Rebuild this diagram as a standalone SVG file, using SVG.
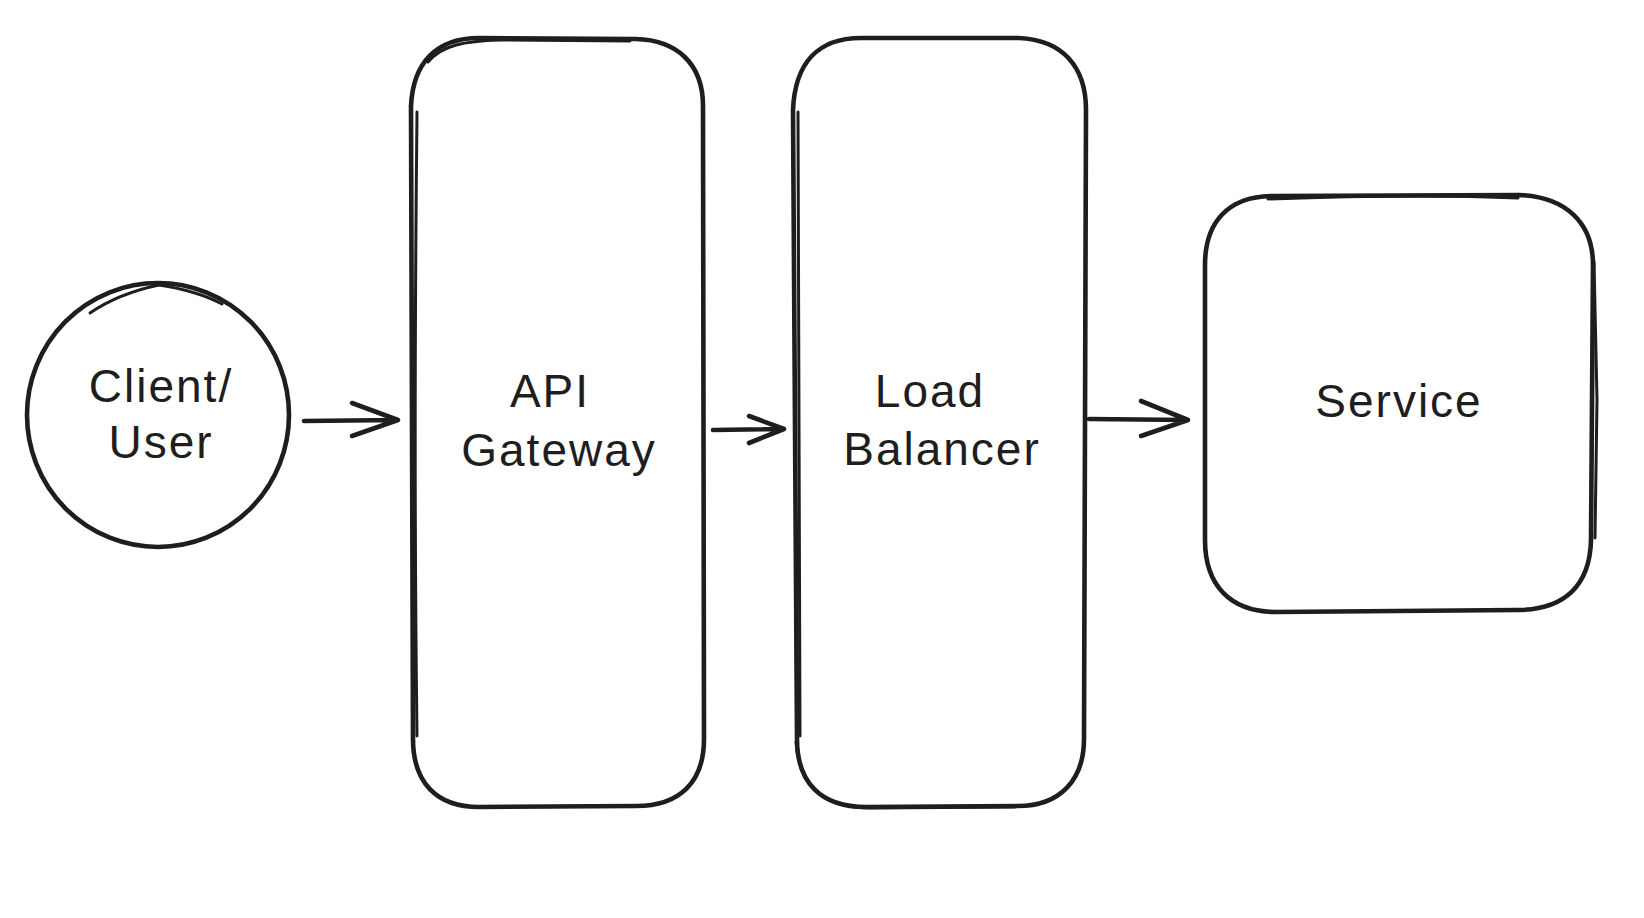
<svg xmlns="http://www.w3.org/2000/svg" width="1644" height="918" viewBox="0 0 1644 918">
<style>
.sh{fill:none;stroke:#1e1e1e;stroke-width:4.6;stroke-linecap:round;stroke-linejoin:round}
.sk{fill:none;stroke:#1e1e1e;stroke-width:3;stroke-linecap:round;stroke-linejoin:round}
.lb{font-family:"Liberation Sans","DejaVu Sans",sans-serif;font-size:46px;letter-spacing:2px;fill:#1e1e1e;text-anchor:middle}
</style>
<rect width="1644" height="918" fill="#ffffff"/>
<g id="client">
<ellipse class="sh" cx="158" cy="415" rx="131" ry="132"/>
<path class="sk" d="M90 313 C112 298 135 290 159 285 C185 289 205 295 222 304"/>
<text class="lb" x="161" y="402">Client/</text>
<text class="lb" x="161" y="458">User</text>
</g>
<g id="api-gateway">
<path class="sh" d="M479 38 L636 39 C676 40 703 63 703 106 L704 739 C704 782 680 806 636 806 L479 807 C436 807 413 782 413 739 L411 106 C413 63 436 38 479 38 Z"/>
<path class="sk" d="M417 112 C415 300 414 500 417 736"/>
<path class="sk" d="M428 62 C442 45 465 41 500 40 L630 41"/>
<text class="lb" x="550" y="407">API</text>
<text class="lb" x="559" y="466">Gateway</text>
</g>
<g id="load-balancer">
<path class="sh" d="M861 38 L1019 38 C1062 40 1086 66 1086 110 L1084 739 C1084 780 1060 806 1018 806 L866 807 C820 807 797 782 797 739 L793 110 C795 63 818 38 861 38 Z"/>
<path class="sk" d="M798 112 L800 736"/>
<path class="sk" d="M796 742 C799 785 822 808 870 808 L1015 807"/>
<text class="lb" x="930" y="407">Load</text>
<text class="lb" x="942" y="465">Balancer</text>
</g>
<g id="service">
<path class="sh" d="M1271 196 L1520 195 C1565 197 1593 222 1593 265 L1591 540 C1590 585 1565 610 1517 610 L1276 612 C1230 612 1205 585 1205 540 L1205 265 C1205 222 1228 197 1271 196 Z"/>
<path class="sk" d="M1594 262 L1597 400 L1595 538"/>
<path class="sk" d="M1268 199 C1350 196 1450 195 1518 198"/>
<text class="lb" x="1399" y="417">Service</text>
</g>
<g id="connectors">
<path class="sh" d="M304 421 L398 420 M352 403 L398 420 L352 436"/>
<path class="sh" d="M713 430 L784 429 M749 416 L784 429 L749 443"/>
<path class="sh" d="M1089 419 L1188 420 M1141 401 L1188 420 L1141 436"/>
</g>
</svg>
